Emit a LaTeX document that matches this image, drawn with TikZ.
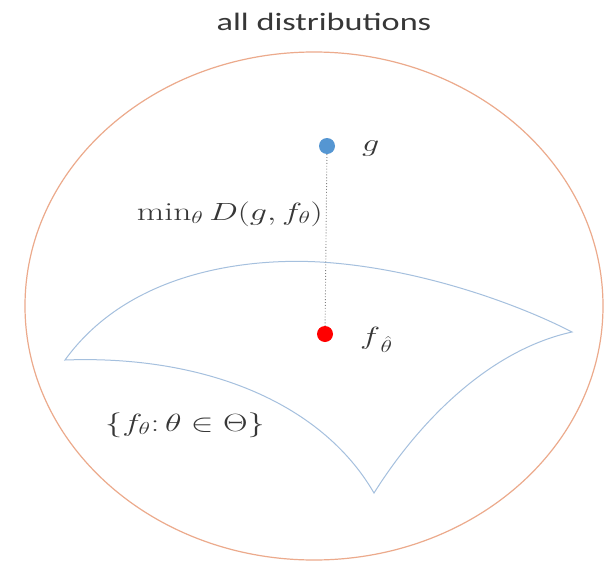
\documentclass[tikz,border=0pt]{standalone}
\usepackage{fontspec}
\usepackage{graphicx}
\newfontfamily\calib{Carlito}
\newcommand{\wide}[1]{\scalebox{1.37}[1]{#1}}
\definecolor{ellcol}{RGB}{236,170,140}
\definecolor{surfcol}{RGB}{165,192,222}
\definecolor{gdot}{RGB}{85,150,210}
\definecolor{txtcol}{RGB}{55,55,55}
\begin{document}
\begin{tikzpicture}[x=1pt,y=-1pt,
  dotnode/.style={circle,inner sep=0pt,minimum size=16pt},
  mathlbl/.style={text=txtcol,inner sep=1pt,font=\fontsize{26}{30}\selectfont}]
\useasboundingbox (0,0) rectangle (606,565);
\fill[white] (0,0) rectangle (606,565);
\draw[ellcol,line width=1.2pt] (314,306) ellipse [x radius=289, y radius=254];
\node[text=txtcol,font=\calib\fontsize{25}{30}\selectfont] (title) at (324,22) {\wide{all distributions}};
% surface
\draw[surfcol,line width=1pt]
  (65,360) .. controls (130,270) and (250,258) .. (320,262)
  .. controls (420,268) and (520,305) .. (572,332)
  .. controls (490,350) and (420,420) .. (374,493)
  .. controls (320,400) and (200,355) .. (65,360) -- cycle;
\node[dotnode,fill=gdot] (g) at (327,146) {};
\node[dotnode,fill=red] (f) at (325,334) {};
\draw[gray,dotted,line width=0.9pt] (g) -- (f);
\node[mathlbl,anchor=west] (glbl) at (361,149) {\wide{$g$}};
\node[mathlbl,anchor=west] (flbl) at (359,340) {\wide{$f_{\,\hat\theta}$}};
\node[mathlbl,anchor=east] (minlbl) at (324,214) {\wide{$\min_\theta D(g,f_\theta)$}};
\node[mathlbl] (setlbl) at (185,425) {\wide{$\{f_\theta\colon\theta\in\Theta\}$}};
\end{tikzpicture}
\end{document}
